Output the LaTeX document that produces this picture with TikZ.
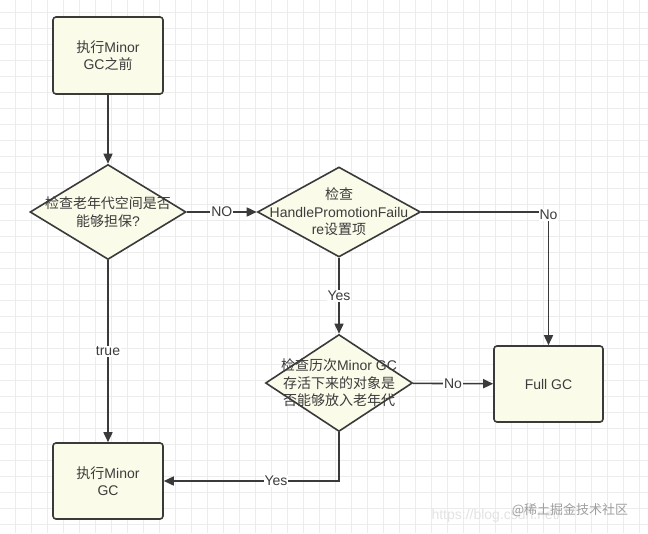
\documentclass[tikz,border=0pt]{standalone}
\usepackage{fontspec}
\setmainfont{Liberation Sans}
\newfontfamily\cjk{Noto Sans CJK SC}
\usetikzlibrary{shapes.geometric,arrows.meta}
\definecolor{boxfill}{HTML}{FBFBEA}
\definecolor{edgec}{HTML}{3A3A3A}
\definecolor{txtc}{HTML}{3C3C3C}
\definecolor{gridc}{HTML}{ECECEC}
\begin{document}
\begin{tikzpicture}[x=1pt,y=-1pt,
  procbox/.style={draw=edgec, line width=1.6pt, fill=boxfill, rounded corners=3pt, minimum width=110pt, minimum height=77pt, inner sep=0pt, font=\fontsize{14}{17}\selectfont, text=txtc, align=center},
  decision/.style={diamond, draw=edgec, line width=1.6pt, fill=boxfill, inner sep=0pt},
  lbl/.style={font=\fontsize{14}{17.5}\selectfont, text=txtc, align=center, inner sep=0pt},
  conn/.style={draw=edgec, line width=1.6pt},
  arr/.style={conn, -{Triangle[length=10pt,width=9pt]}},
  tag/.style={fill=white, inner sep=1pt, font=\fontsize{14}{16}\selectfont, text=txtc}
]
\fill[white] (0,0) rectangle (648,533);
\useasboundingbox (0,0) rectangle (648,533);
\foreach \gx in {15,31,...,640} \draw[gridc, line width=0.7pt] (\gx,0) -- (\gx,533);
\foreach \gy in {12,28,...,530} \draw[gridc, line width=0.7pt] (0,\gy) -- (648,\gy);

\node[procbox] (start) at (108,55.5) {{\cjk 执行}Minor\\GC{\cjk 之前}};
\node[decision, minimum width=156pt, minimum height=95pt] (d1) at (108,212) {};
\node[lbl] (t1) at (d1) {{\cjk 检查老年代空间是否}\\{\cjk 能够担保}?};
\node[decision, minimum width=163pt, minimum height=90pt] (d2) at (339,212) {};
\node[lbl] (t2) at (d2) {{\cjk 检查}\\HandlePromotionFailu\\re{\cjk 设置项}};
\node[decision, minimum width=147pt, minimum height=97pt] (d3) at (339,383) {};
\node[lbl] (t3) at (d3) {{\cjk 检查历次}Minor GC\\{\cjk 存活下来的对象是}\\{\cjk 否能够放入老年代}};
\node[procbox, minimum width=109pt, minimum height=76pt] (full) at (548.5,384) {Full GC};
\node[procbox, minimum height=76pt] (minor) at (108,481) {{\cjk 执行}Minor\\GC};

\draw[arr] (start) -- (d1);
\draw[arr] (d1) -- node[tag] {NO} (d2);
\draw[arr] (d2.east) -| node[tag, pos=0.5, yshift=-3pt] {No} (full.north);
\draw[arr] (d2) -- node[tag] {Yes} (d3);
\draw[arr] (d3) -- node[tag] {No} (full);
\draw[arr] (d3.south) |- node[tag, pos=0.68] {Yes} (minor.east);
\draw[arr] (d1) -- node[tag] {true} (minor);

\node[anchor=west, text=gray!22, font=\fontsize{14}{14}\selectfont] (url) at (428,516) {https://blog.csdn.net/};
\node[text=gray!75, font=\cjk\fontsize{13}{13}\selectfont] (wm) at (570,510) {@稀土掘金技术社区};
\end{tikzpicture}
\end{document}
